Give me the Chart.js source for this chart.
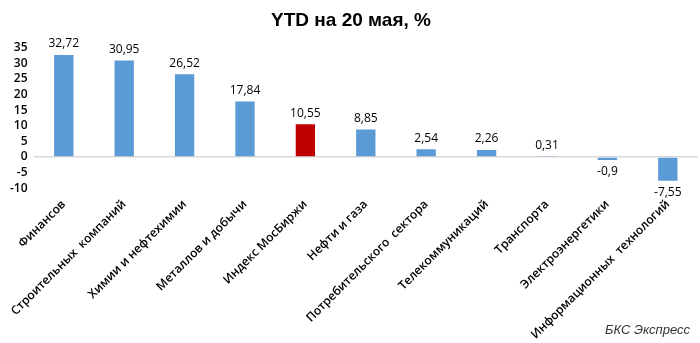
<!DOCTYPE html>
<html>
<head>
<meta charset="utf-8">
<script src="https://cdn.jsdelivr.net/npm/chart.js@4/dist/chart.umd.min.js"></script>
<style>
  body { margin:0; background:#fff; }
  #wrap { position:relative; width:700px; height:343px; }
  #src { position:absolute; right:10px; bottom:6px; font:italic 13px "Liberation Sans", Arial, sans-serif; color:#333; }
</style>
</head>
<body>
<div id="wrap">
  <canvas id="graf1" width="700" height="343"></canvas>
  <div id="src">БКС Экспресс</div>
</div>
<script>
const categorias = ["Финансов", "Строительных  компаний", "Химии и нефтехимии", "Металлов и добычи",
  "Индекс МосБиржи", "Нефти и газа", "Потребительского  сектора", "Телекоммуникаций",
  "Транспорта", "Электроэнергетики", "Информационных  технологий"];
const valores = [32.72, 30.95, 26.52, 17.84, 10.55, 8.85, 2.54, 2.26, 0.31, -0.9, -7.55];
const cores = ["#5B9BD5", "#5B9BD5", "#5B9BD5", "#5B9BD5", "#C00000", "#5B9BD5",
  "#5B9BD5", "#5B9BD5", "#5B9BD5", "#5B9BD5", "#5B9BD5"];
const yMin = -10, yMax = 35, yStep = 5;

// rótulos de valor em cima / embaixo das barras
const rotulos = {
  id: "rotulos",
  afterDatasetsDraw(chart) {
    const ctx = chart.ctx;
    const meta = chart.getDatasetMeta(0);
    ctx.save();
    ctx.font = '12px "Open Sans", sans-serif';
    ctx.fillStyle = "#000";
    ctx.textAlign = "center";
    meta.data.forEach((bar, i) => {
      const v = valores[i];
      const txt = String(v).replace(".", ",");
      if (v >= 0) {
        ctx.textBaseline = "bottom";
        ctx.fillText(txt, bar.x, bar.y - 5);
      } else {
        ctx.textBaseline = "top";
        ctx.fillText(txt, bar.x, bar.y + 6);
      }
    });
    ctx.restore();
  }
};

new Chart(document.getElementById("graf1"), {
  type: "bar",
  data: {
    labels: categorias,
    datasets: [{
      data: valores,
      backgroundColor: cores,
      barPercentage: 0.32,
      categoryPercentage: 1
    }]
  },
  options: {
    responsive: false,
    animation: false,
    layout: { padding: { left: 4, right: 2, bottom: 0 } },
    plugins: {
      legend: { display: false },
      tooltip: { enabled: false },
      title: {
        display: true,
        text: "YTD на 20 мая, %",
        color: "#000",
        font: { family: '"Liberation Sans", Arial, sans-serif', size: 19, weight: "bold" },
        padding: { top: 9, bottom: 16 }
      }
    },
    scales: {
      x: {
        grid: { display: false },
        border: { display: false },
        ticks: {
          color: "#000",
          autoSkip: false,
          minRotation: 45,
          maxRotation: 45,
          padding: 1,
          font: { family: '"Open Sans", sans-serif', size: 12, weight: "600" }
        }
      },
      y: {
        min: yMin,
        max: yMax,
        border: { display: false },
        grid: {
          drawTicks: false,
          color: c => c.tick.value === 0 ? "#D9D9D9" : "transparent",
          lineWidth: 1.5
        },
        ticks: {
          stepSize: yStep,
          autoSkip: false,
          color: "#000",
          padding: 6,
          font: { family: '"Open Sans", sans-serif', size: 12, weight: "600" }
        }
      }
    }
  },
  plugins: [rotulos]
});
</script>
</body>
</html>
